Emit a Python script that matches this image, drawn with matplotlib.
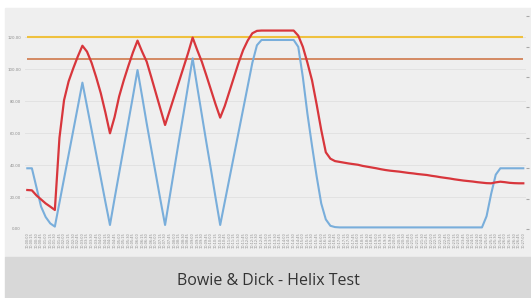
import matplotlib
matplotlib.use("Agg")
import matplotlib.pyplot as plt
from matplotlib.patches import Rectangle

# sample readings, one per log entry
BLUE = [
    38, 38, 26, 14, 7.5, 3.5, 1.5,
    16.5, 31.5, 46.5, 61.5, 76.5, 91.6,
    76.8, 62, 47, 32, 17, 2.5,
    19, 35, 51, 67, 83, 99.5,
    83, 66, 50, 34, 18, 2.5,
    20, 37.5, 55, 72, 89.5, 106.8,
    89, 71.5, 54, 37, 19.5, 2.5,
    17, 31.5, 46, 60.5, 75, 89.5, 104, 115, 118.3,
    118.3, 118.3, 118.3, 118.3, 118.3, 118.3, 118.3,
    114, 95, 72, 52, 33, 16, 6, 2, 1.2,
    1.0, 1.0, 1.0, 1.0, 1.0, 1.0, 1.0, 1.0, 1.0, 1.0, 1.0, 1.0, 1.0, 1.0, 1.0, 1.0,
    1.0, 1.0, 1.0, 1.0, 1.0, 1.0, 1.0, 1.0, 1.0, 1.0, 1.0, 1.0, 1.0, 1.0, 1.0, 1.0,
    8, 22, 34, 38,
    38, 38, 38, 38, 38,
]
RED = [
    24.4, 24.2, 21, 18.5, 16, 14, 11.9,
    57, 80.6, 92.4, 100.5, 108, 114.7,
    111, 104, 95, 85, 73, 59.9,
    70, 83, 93, 102, 110.5, 117.9,
    111, 104.7, 95, 85, 75, 65.1,
    74, 83, 92, 101, 110, 119.8,
    112, 104.7, 96, 87, 78, 69.7,
    77, 86, 95, 104, 112, 118, 122.5, 124, 124.2,
    124.2, 124.2, 124.2, 124.2, 124.2, 124.2, 124.2,
    121, 114, 104, 93, 78, 62, 48, 44, 42.5, 42,
    41.5, 41, 40.6, 40.2, 39.5, 39, 38.5, 38, 37.4, 36.9,
    36.5, 36.2, 35.9, 35.5, 35.1, 34.8, 34.4, 34.1, 33.8, 33.3,
    32.9, 32.4, 32, 31.6, 31.1, 30.7, 30.3, 30, 29.7, 29.3,
    29, 28.7, 28.6, 29.2, 29.6, 29.3, 28.9, 28.7, 28.6, 28.6,
]
UPPER_LIMIT = 120.0
LOWER_LIMIT = 106.5

Y_TICKS = [0, 20, 40, 60, 80, 100, 120]
Y2_TICKS = [0, 0.5, 1, 1.5, 2, 2.5, 3, 3.5]
# log timestamps (unreadable in the source, one per sample)
X_LABELS = [f"10:{(i * 15) // 60:02d}:{(i * 15) % 60:02d}" for i in range(len(BLUE))]

TITLE = "Bowie & Dick - Helix Test"

W, H = 531, 298
fig = plt.figure(figsize=(W / 100, H / 100), dpi=100, facecolor="white")

# background panel and caption band (behind the axes)
fig.patches.append(Rectangle((5 / W, 41 / H), 1, (H - 8 - 41) / H,
                             transform=fig.transFigure, color="#efefef", zorder=-10))
fig.patches.append(Rectangle((5 / W, 0), 1, 41 / H,
                             transform=fig.transFigure, color="#d8d8d8", zorder=-10))
fig.text(0.505, 0.057, TITLE, ha="center", va="center",
         fontsize=11.5, color="#333333", family="Open Sans")

ax = fig.add_axes([25 / W, (H - 229) / H, 500.6 / W, 218.9 / H])
ax.set_facecolor("none")
for s in ax.spines.values():
    s.set_visible(False)

xs = list(range(len(BLUE)))
ax.set_xlim(-0.5, len(BLUE) - 0.5)
ax.set_ylim(0, 137)

ax.set_yticks(Y_TICKS)
ax.set_yticklabels([f"{v:.2f}" for v in Y_TICKS], fontsize=2.8, color="#8c8c8c")
ax.tick_params(axis="y", length=0, pad=3)
ax.grid(axis="y", color="#e2e2e2", lw=0.7)
ax.set_axisbelow(True)

ax.set_xticks(xs)
ax.set_xticklabels(X_LABELS, rotation=90, fontsize=2.5, color="#8a8a8a")
ax.tick_params(axis="x", length=0, pad=2)

ax.hlines([UPPER_LIMIT], 0, len(BLUE) - 1, color="#efc13e", lw=1.5, zorder=2)
ax.hlines([LOWER_LIMIT], 0, len(BLUE) - 1, color="#d48a63", lw=1.4, zorder=2)
ax.plot(xs, BLUE, color="#79aedb", lw=1.5, zorder=3)
ax.plot(xs, RED, color="#d8363c", lw=1.6, zorder=4)

# right axis: only its marks show at the picture's edge
ax2 = ax.twinx()
for s in ax2.spines.values():
    s.set_visible(False)
ax2.set_ylim(0, 3.6)
ax2.set_yticks(Y2_TICKS)
ax2.set_yticklabels([])
ax2.tick_params(axis="y", length=2.2, width=0.8, pad=0, color="#a8a8a8", direction="out")

fig.savefig("out.png", dpi=100, facecolor="white")
